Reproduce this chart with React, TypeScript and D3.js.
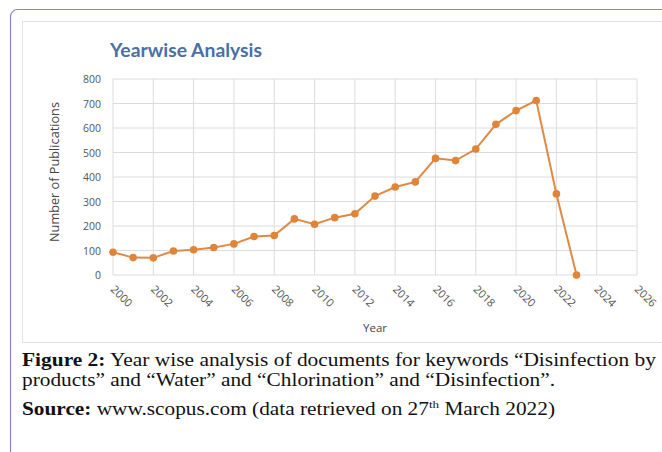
import React, { useEffect, useRef } from "react";
import * as d3 from "d3";

const years = [2000, 2001, 2002, 2003, 2004, 2005, 2006, 2007, 2008, 2009, 2010, 2011, 2012, 2013, 2014, 2015, 2016, 2017, 2018, 2019, 2020, 2021, 2022, 2023];
const publications = [93, 71, 70, 98, 103, 112, 127, 157, 161, 229, 207, 234, 250, 322, 359, 380, 476, 467, 514, 615, 671, 712, 331, 0];
const yTicks = [0, 100, 200, 300, 400, 500, 600, 700, 800];
const xTicks = [2000, 2002, 2004, 2006, 2008, 2010, 2012, 2014, 2016, 2018, 2020, 2022, 2024, 2026];

const W = 662;
const H = 452;

const App = () => {
  const ref = useRef<SVGSVGElement | null>(null);

  useEffect(() => {
    if (!ref.current) return;
    const svg = d3.select(ref.current);
    svg.selectAll("*").remove();

    const margin = { top: 79, left: 113, right: 25, bottom: 177 };
    const x = d3.scaleLinear().domain([2000, 2026]).range([margin.left, W - margin.right]);
    const y = d3.scaleLinear().domain([0, 800]).range([H - margin.bottom, margin.top]);

    // page frame
    svg.append("rect").attr("width", W).attr("height", H).attr("fill", "#fff");
    svg
      .append("rect")
      .attr("x", 10.5)
      .attr("y", 9.5)
      .attr("width", W + 20)
      .attr("height", H + 20)
      .attr("rx", 7)
      .attr("fill", "none")
      .attr("stroke", "#8b86c4")
      .attr("stroke-width", 1.2);
    svg
      .append("rect")
      .attr("x", 22.5)
      .attr("y", 21.5)
      .attr("width", W)
      .attr("height", 321)
      .attr("fill", "#fff")
      .attr("stroke", "#e2e2e2");

    svg
      .append("text")
      .attr("x", 110)
      .attr("y", 57)
      .attr("font-family", "Lato, 'Open Sans', sans-serif")
      .attr("font-weight", "bold")
      .attr("font-size", 19)
      .attr("textLength", 152)
      .attr("lengthAdjust", "spacingAndGlyphs")
      .attr("fill", "#4a6fa5")
      .text("Yearwise Analysis");

    const grid = svg.append("g").attr("stroke", "#dcdcdc").attr("stroke-width", 1);
    grid
      .selectAll("line.h")
      .data(yTicks)
      .join("line")
      .attr("x1", x(2000))
      .attr("x2", x(2026))
      .attr("y1", (d) => y(d))
      .attr("y2", (d) => y(d));
    grid
      .selectAll("line.v")
      .data(xTicks)
      .join("line")
      .attr("x1", (d) => x(d))
      .attr("x2", (d) => x(d))
      .attr("y1", y(0))
      .attr("y2", y(800));

    const font = "'Open Sans', 'DejaVu Sans', sans-serif";
    svg
      .append("g")
      .selectAll("text")
      .data(yTicks)
      .join("text")
      .attr("x", x(2000) - 12)
      .attr("y", (d) => y(d) + 4)
      .attr("text-anchor", "end")
      .attr("font-family", font)
      .attr("font-size", 10.5)
      .attr("fill", "#555")
      .text((d) => d);

    svg
      .append("g")
      .selectAll("text")
      .data(xTicks)
      .join("text")
      .attr("transform", (d) => `translate(${x(d) - 3},${y(0) + 15}) rotate(45)`)
      .attr("font-family", font)
      .attr("font-size", 11)
      .attr("fill", "#555")
      .text((d) => d);

    svg
      .append("text")
      .attr("transform", `translate(59,172) rotate(-90)`)
      .attr("text-anchor", "middle")
      .attr("font-family", font)
      .attr("font-size", 12)
      .attr("textLength", 140)
      .attr("lengthAdjust", "spacingAndGlyphs")
      .attr("fill", "#444")
      .text("Number of Publications");

    svg
      .append("text")
      .attr("x", 375)
      .attr("y", 332)
      .attr("text-anchor", "middle")
      .attr("font-family", font)
      .attr("font-size", 11.5)
      .attr("fill", "#444")
      .text("Year");

    const pts = years.map((yr, i) => ({ yr, v: publications[i] }));
    const line = d3
      .line<{ yr: number; v: number }>()
      .x((d) => x(d.yr))
      .y((d) => y(d.v));
    svg
      .append("path")
      .datum(pts)
      .attr("d", line)
      .attr("fill", "none")
      .attr("stroke", "#de8a45")
      .attr("stroke-width", 2);
    svg
      .append("g")
      .selectAll("circle")
      .data(pts)
      .join("circle")
      .attr("cx", (d) => x(d.yr))
      .attr("cy", (d) => y(d.v))
      .attr("r", 3.8)
      .attr("fill", "#e08437");

    // caption
    const serif = "'Liberation Serif', 'Times New Roman', serif";
    const cap = svg.append("g").attr("font-family", serif).attr("font-size", 18).attr("fill", "#111");
    const l1 = cap
      .append("text")
      .attr("x", 22)
      .attr("y", 366)
      .attr("textLength", 634)
      .attr("lengthAdjust", "spacingAndGlyphs");
    l1.append("tspan").attr("font-weight", "bold").text("Figure 2:");
    l1.append("tspan").text(" Year wise analysis of documents for keywords \u201CDisinfection by");
    cap
      .append("text")
      .attr("x", 22)
      .attr("y", 386)
      .attr("textLength", 533)
      .attr("lengthAdjust", "spacingAndGlyphs")
      .text("products\u201D and \u201CWater\u201D and \u201CChlorination\u201D and \u201CDisinfection\u201D.");
    const l3 = cap
      .append("text")
      .attr("x", 22)
      .attr("y", 415)
      .attr("textLength", 533)
      .attr("lengthAdjust", "spacingAndGlyphs");
    l3.append("tspan").attr("font-weight", "bold").text("Source:");
    l3.append("tspan").text(" www.scopus.com (data retrieved on 27");
    l3.append("tspan").attr("font-size", 11).attr("dy", -7).text("th");
    l3.append("tspan").attr("dy", 7).text(" March 2022)");
  }, []);

  return (
    <div style={{ position: "fixed", left: 0, top: 0 }}>
      <svg ref={ref} width={W} height={H} style={{ display: "block" }} />
    </div>
  );
};

export default App;
